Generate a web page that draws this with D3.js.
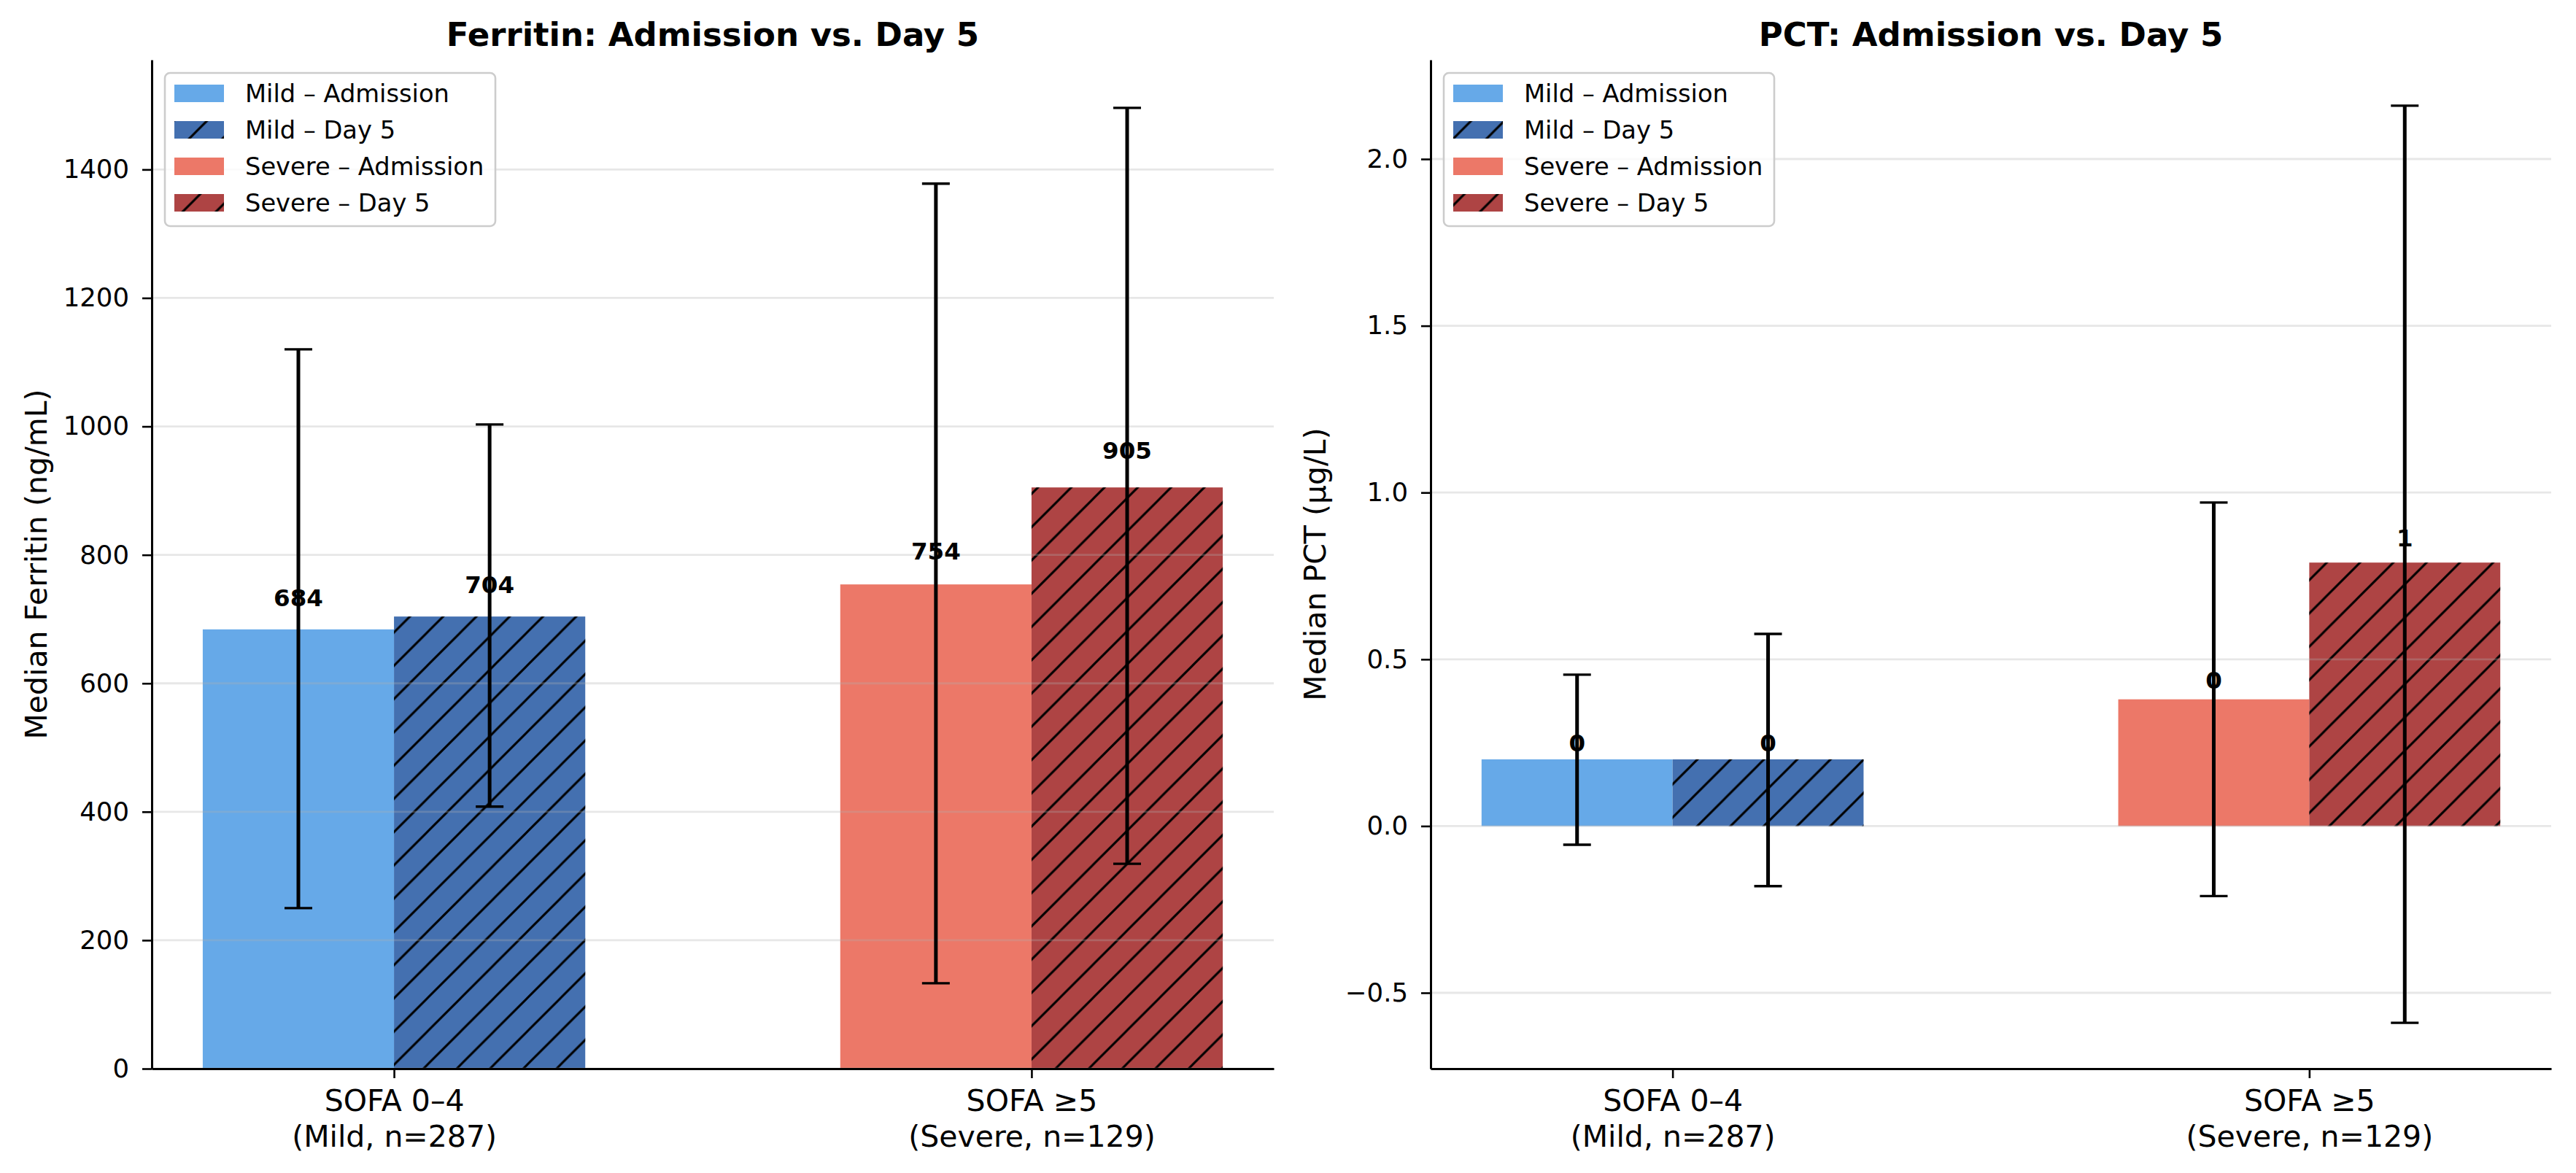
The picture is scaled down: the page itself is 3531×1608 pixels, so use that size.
<!DOCTYPE html>
<html>
<head>
<meta charset="utf-8">
<script src="https://cdn.jsdelivr.net/npm/d3@7"></script>
<style>
    body { margin: 0; background: #fff; }
    svg { display: block; font-family: "DejaVu Sans", sans-serif; }
</style>
</head>
<body>
<div id="chart"></div>
<script>
const width = 3531;
const height = 1608;
const plotTop = 82;
const plotBottom = 1465;

// categories
const groupLines = [["SOFA 0–4", "(Mild, n=287)"], ["SOFA ≥5", "(Severe, n=129)"]];
const seriesNames = ["Mild – Admission", "Mild – Day 5", "Severe – Admission", "Severe – Day 5"];
// every bar belongs to a group, admission sits left (-1), day 5 right (+1)
const barGroup = [0, 0, 1, 1];
const barSide = [-1, 1, -1, 1];
const barColors = ["#66a9e8", "#4470b0", "#ec7868", "#ae4444"];
const barHatched = [false, true, false, true];

// Ferritin (ng/mL): median with lower / upper error bar ends
const ferritinMedian = [684, 704, 754, 905];
const ferritinLow = [250, 408, 133, 319];
const ferritinHigh = [1120, 1003, 1378, 1496];
const ferritinTicks = [0, 200, 400, 600, 800, 1000, 1200, 1400];

// PCT (µg/L)
const pctMedian = [0.20, 0.20, 0.38, 0.79];
const pctLow = [-0.056, -0.18, -0.21, -0.59];
const pctHigh = [0.454, 0.576, 0.97, 2.16];
const pctTicks = [-0.5, 0, 0.5, 1.0, 1.5, 2.0];

const panels = [
    {
        left: 208, right: 1746,
        title: "Ferritin: Admission vs. Day 5",
        yLabel: "Median Ferritin (ng/mL)",
        median: ferritinMedian, low: ferritinLow, high: ferritinHigh,
        ticks: ferritinTicks, tickFormat: d3.format("d")
    },
    {
        left: 1961, right: 3497,
        title: "PCT: Admission vs. Day 5",
        yLabel: "Median PCT (µg/L)",
        median: pctMedian, low: pctLow, high: pctHigh,
        ticks: pctTicks, tickFormat: d3.format(".1f")
    }
];

const svg = d3.select("#chart")
    .append("svg")
        .attr("width", width)
        .attr("height", height);

// hatch pattern "/" like matplotlib, lines at 45 degrees
const hatchStep = 45.6;
svg.append("defs")
    .append("pattern")
        .attr("id", "hatch")
        .attr("patternUnits", "userSpaceOnUse")
        .attr("x", 39)
        .attr("y", 0)
        .attr("width", hatchStep)
        .attr("height", hatchStep)
    .append("path")
        .attr("d", `M0,${hatchStep} L${hatchStep},0 M${-hatchStep / 2},${hatchStep / 2} L${hatchStep / 2},${-hatchStep / 2} M${hatchStep / 2},${hatchStep * 1.5} L${hatchStep * 1.5},${hatchStep / 2}`)
        .attr("stroke", "#000")
        .attr("stroke-width", 3);

function drawPanel(p) {
    const barWidth = 0.3;

    // matplotlib-like autoscale margins (5%)
    const xLo = -barWidth, xHi = groupLines.length - 1 + barWidth;
    const xPad = (xHi - xLo) * 0.05;
    const x = d3.scaleLinear()
        .domain([xLo - xPad, xHi + xPad])
        .range([p.left, p.right]);

    const lo = Math.min(0, d3.min(p.low));
    const hi = d3.max(p.high);
    const yPad = (hi - lo) * 0.05;
    const y = d3.scaleLinear()
        .domain([lo < 0 ? lo - yPad : 0, hi + yPad])
        .range([plotBottom, plotTop]);

    const bars = p.median.map((v, i) => ({
        value: v,
        low: p.low[i],
        high: p.high[i],
        center: barGroup[i] + barSide[i] * barWidth / 2,
        color: barColors[i],
        hatched: barHatched[i]
    }));

    const g = svg.append("g");

    // bars
    g.selectAll("rect.bar")
        .data(bars)
        .join("rect")
            .attr("class", "bar")
            .attr("x", d => x(d.center - barWidth / 2))
            .attr("width", d => x(d.center + barWidth / 2) - x(d.center - barWidth / 2))
            .attr("y", d => y(d.value))
            .attr("height", d => y(0) - y(d.value))
            .attr("fill", d => d.color);

    g.selectAll("rect.hatch")
        .data(bars.filter(d => d.hatched))
        .join("rect")
            .attr("class", "hatch")
            .attr("x", d => x(d.center - barWidth / 2))
            .attr("width", d => x(d.center + barWidth / 2) - x(d.center - barWidth / 2))
            .attr("y", d => y(d.value))
            .attr("height", d => y(0) - y(d.value))
            .attr("fill", "url(#hatch)");

    // grid sits above the bars, as in the source
    g.selectAll("line.grid")
        .data(p.ticks)
        .join("line")
            .attr("class", "grid")
            .attr("x1", p.left)
            .attr("x2", p.right)
            .attr("y1", d => y(d))
            .attr("y2", d => y(d))
            .attr("stroke", "#b0b0b0")
            .attr("stroke-opacity", 0.3)
            .attr("stroke-width", 2.8);

    // error bars
    g.selectAll("line.err")
        .data(bars)
        .join("line")
            .attr("class", "err")
            .attr("x1", d => x(d.center))
            .attr("x2", d => x(d.center))
            .attr("y1", d => y(d.low))
            .attr("y2", d => y(d.high))
            .attr("stroke", "#000")
            .attr("stroke-width", 5);

    const caps = bars.flatMap(d => [{ c: d.center, v: d.low }, { c: d.center, v: d.high }]);
    g.selectAll("line.cap")
        .data(caps)
        .join("line")
            .attr("class", "cap")
            .attr("x1", d => x(d.c) - 19)
            .attr("x2", d => x(d.c) + 19)
            .attr("y1", d => y(d.v))
            .attr("y2", d => y(d.v))
            .attr("stroke", "#000")
            .attr("stroke-width", 3.4);

    // value labels (bottom-aligned a bit above the bar)
    g.selectAll("text.value")
        .data(bars)
        .join("text")
            .attr("class", "value")
            .attr("x", d => x(d.center))
            .attr("y", d => y(d.value * 1.04) - 7.6)
            .attr("text-anchor", "middle")
            .attr("font-size", "32.5px")
            .attr("font-weight", "bold")
            .text(d => d3.format(".0f")(d.value));

    // y axis
    const yAxis = g.append("g")
        .attr("transform", `translate(${p.left},0)`)
        .call(d3.axisLeft(y)
            .tickValues(p.ticks)
            .tickFormat(p.tickFormat)
            .tickSize(13)
            .tickPadding(18)
            .tickSizeOuter(0));
    yAxis.select(".domain").attr("stroke-width", 3);
    yAxis.selectAll(".tick line").attr("stroke-width", 2.6);
    yAxis.selectAll(".tick text")
        .attr("font-size", "35.5px")
        .attr("font-family", "DejaVu Sans")
        .attr("fill", "#000");

    // x axis with two-line category labels
    const xAxis = g.append("g")
        .attr("transform", `translate(0,${plotBottom})`)
        .call(d3.axisBottom(x)
            .tickValues(groupLines.map((_, i) => i))
            .tickFormat("")
            .tickSize(13)
            .tickSizeOuter(0));
    xAxis.select(".domain").attr("stroke-width", 3);
    xAxis.selectAll(".tick line").attr("stroke-width", 2.6);
    xAxis.selectAll(".tick text").remove();
    xAxis.selectAll(".tick")
        .append("text")
            .attr("text-anchor", "middle")
            .attr("font-size", "41px")
            .attr("font-family", "DejaVu Sans")
            .attr("fill", "#000")
            .selectAll("tspan")
            .data((_, i) => groupLines[i])
            .join("tspan")
                .attr("x", 0)
                .attr("y", (_, j) => 58 + j * 49)
                .text(d => d);

    // labels
    svg.append("text")
        .attr("x", (p.left + p.right) / 2)
        .attr("y", 63)
        .attr("text-anchor", "middle")
        .attr("font-size", "45px")
        .attr("font-weight", "bold")
        .text(p.title);

    svg.append("text")
        .attr("transform", `translate(${p.left - 144},${(plotTop + plotBottom) / 2}) rotate(-90)`)
        .attr("text-anchor", "middle")
        .attr("font-size", "41px")
        .text(p.yLabel);

    // legend, upper left
    const lx = p.left + 18, ly = plotTop + 18;
    svg.append("rect")
        .attr("x", lx)
        .attr("y", ly)
        .attr("width", 453)
        .attr("height", 210)
        .attr("rx", 7)
        .attr("fill", "#fff")
        .attr("fill-opacity", 0.8)
        .attr("stroke", "#cccccc")
        .attr("stroke-width", 2.6);

    seriesNames.forEach((name, i) => {
        const cy = ly + 28 + i * 50;
        svg.append("rect")
            .attr("x", lx + 13)
            .attr("y", cy - 12)
            .attr("width", 68)
            .attr("height", 24)
            .attr("fill", barColors[i]);
        if (barHatched[i]) {
            svg.append("rect")
                .attr("x", lx + 13)
                .attr("y", cy - 12)
                .attr("width", 68)
                .attr("height", 24)
                .attr("fill", "url(#hatch)");
        }
        svg.append("text")
            .attr("x", lx + 110)
            .attr("y", cy + 12)
            .attr("font-size", "33.7px")
            .text(name);
    });
}

panels.forEach(drawPanel);
</script>
</body>
</html>
